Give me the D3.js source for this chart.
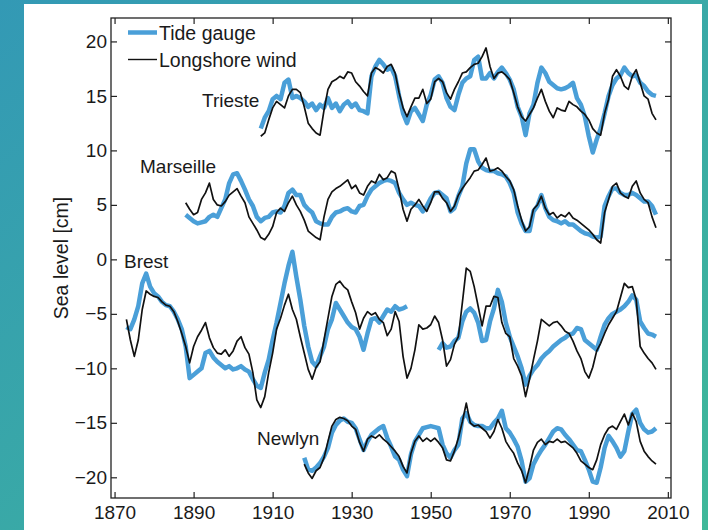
<!DOCTYPE html>
<html lang="en">
<head>
<meta charset="UTF-8">
<title>Sea level: tide gauge vs longshore wind</title>
<script src="https://d3js.org/d3.v7.min.js"></script>
<style>
  body { margin: 0; background: #3aa6ad; }
  svg { display: block; }
  text { font-family: "Liberation Sans", Arial, Helvetica, sans-serif; font-size: 19px; fill: #1a1a1a; }
  .axis path { display: none; }
  .axis line { stroke: #222; stroke-width: 1.2px; }
</style>
</head>
<body>
<svg id="chart" width="708" height="530"></svg>
<script>
// annual values, cm
const triesteStart = 1907;
const triesteGauge = [
  12.0, 13.0, 13.6, 14.7, 15.0, 14.7, 16.2, 16.5, 14.8, 15.0,
  14.8, 14.5, 14.0, 14.3, 13.7, 14.2, 13.9, 14.8, 13.9, 14.3,
  13.6, 14.2, 14.5, 14.0, 14.3, 13.7, 13.6, 13.4, 16.8, 17.7,
  18.3, 17.9, 17.4, 17.6, 16.8, 15.0, 13.4, 12.5, 13.6, 13.9,
  13.3, 12.7, 14.2, 15.1, 16.5, 16.8, 16.2, 14.8, 14.0, 13.7,
  15.1, 16.2, 16.6, 16.8, 18.3, 18.6, 16.6, 16.6, 17.1, 16.6,
  17.2, 17.6, 17.1, 16.5, 15.6, 14.0, 13.1, 11.4, 13.4, 14.2,
  16.2, 17.6, 17.1, 16.3, 16.0, 15.7, 15.6, 15.7, 15.9, 16.2,
  14.8, 14.2, 13.1, 11.3, 9.8, 11.0, 12.0, 13.4, 15.0, 16.0,
  16.6, 16.9, 17.6, 17.1, 16.8, 16.9, 16.2, 15.9, 15.4, 15.1,
  15.0
];
const triesteWind = [
  11.3, 11.6, 12.8, 13.9, 14.5, 14.2, 13.9, 15.0, 15.6, 15.6,
  15.3, 14.0, 12.5, 12.0, 11.6, 11.4, 13.7, 15.6, 16.3, 16.5,
  16.8, 16.6, 17.2, 17.1, 16.3, 15.9, 15.4, 15.0, 17.1, 17.6,
  17.4, 17.1, 17.7, 17.9, 17.1, 15.3, 13.9, 13.1, 14.0, 14.8,
  14.8, 15.6, 14.3, 14.7, 16.3, 16.6, 16.3, 15.3, 14.7, 15.6,
  16.3, 17.1, 17.2, 17.6, 17.9, 18.0, 18.6, 19.4, 17.7, 16.6,
  17.1, 17.2, 16.9, 16.5, 15.3, 14.0, 13.1, 12.7, 13.3, 13.9,
  14.8, 15.6, 14.5, 13.6, 13.0, 13.9, 13.7, 13.6, 14.5, 14.2,
  14.0, 13.6, 13.3, 12.8, 12.0, 11.6, 11.4, 13.4, 14.7, 16.8,
  17.4, 16.8, 15.9, 15.6, 16.8, 17.4, 16.2, 15.0, 14.7, 13.4,
  12.8
];

const marseilleStart = 1888;
const marseilleGauge = [
  4.1, 3.8, 3.5, 3.3, 3.4, 3.5, 3.9, 4.1, 3.9, 4.7,
  5.5, 7.0, 7.8, 7.9, 7.2, 6.4, 5.5, 4.9, 3.9, 3.5,
  3.8, 3.9, 4.3, 4.4, 4.3, 4.9, 6.1, 6.4, 5.9, 5.9,
  5.0, 4.6, 4.3, 3.5, 3.3, 3.2, 3.2, 3.9, 4.3, 4.4,
  4.6, 4.7, 4.4, 4.3, 4.9, 5.0, 5.8, 6.4, 6.7, 7.0,
  7.2, 7.3, 7.2, 7.0, 6.1, 5.5, 5.0, 5.2, 5.0, 4.9,
  4.4, 4.9, 5.6, 6.1, 6.2, 5.9, 5.6, 4.4, 4.7, 5.8,
  6.7, 8.8, 10.1, 10.1, 9.0, 8.4, 8.2, 8.1, 8.1, 7.9,
  7.8, 7.6, 7.0, 6.1, 4.3, 3.3, 2.6, 2.6, 4.4, 4.9,
  5.9, 4.7, 3.9, 3.6, 3.5, 3.3, 3.5, 3.2, 3.2, 2.9,
  2.6, 2.4, 2.3, 2.1, 2.0, 2.1, 4.9, 5.8, 6.5, 6.5,
  6.1, 5.9, 5.9, 6.1, 5.9, 5.6, 5.3, 5.3, 4.9, 4.1
];
const marseilleWind = [
  5.2, 4.6, 4.1, 4.3, 5.5, 6.1, 7.0, 5.5, 5.0, 4.9,
  5.3, 5.9, 6.2, 6.5, 5.8, 5.2, 3.9, 3.3, 2.7, 2.0,
  1.8, 2.3, 3.0, 4.3, 4.7, 4.4, 5.2, 5.8, 5.0, 4.4,
  3.6, 2.6, 2.3, 2.0, 1.8, 3.9, 5.5, 6.2, 6.5, 6.7,
  7.0, 7.3, 6.5, 6.8, 6.1, 5.9, 6.7, 7.2, 7.0, 7.8,
  7.3, 7.5, 8.1, 7.9, 6.4, 4.6, 3.5, 4.6, 5.0, 5.5,
  4.9, 4.4, 5.2, 6.2, 6.2, 5.6, 5.2, 4.4, 4.9, 5.9,
  6.5, 7.0, 7.5, 8.1, 8.2, 8.7, 9.3, 8.1, 8.2, 8.4,
  8.1, 7.6, 7.2, 6.4, 4.9, 3.6, 2.6, 3.0, 4.6, 5.0,
  5.8, 4.7, 4.1, 4.3, 3.8, 4.1, 3.9, 4.3, 3.8, 3.6,
  3.3, 3.0, 2.7, 2.3, 1.8, 1.5, 4.3, 5.5, 6.7, 7.0,
  6.1, 5.8, 5.6, 6.7, 7.2, 6.1, 5.5, 5.2, 3.9, 2.9
];

const brestStart = 1873;
const brestGauge = [
  -6.2, -6.4, -5.5, -4.3, -2.2, -1.3, -2.5, -3.1, -3.4, -3.9,
  -4.2, -4.3, -4.8, -5.5, -6.4, -8.0, -10.9, -10.6, -10.3, -10.0,
  -8.6, -8.4, -9.0, -9.4, -9.7, -10.0, -9.8, -10.1, -10.0, -9.8,
  -10.1, -10.3, -11.0, -11.6, -11.8, -10.4, -9.2, -7.4, -5.8, -4.0,
  -2.2, -0.6, 0.7, -1.6, -3.7, -6.1, -8.0, -9.4, -9.8, -8.9,
  -8.0, -6.4, -5.5, -4.0, -4.6, -5.2, -5.8, -6.2, -6.4, -7.1,
  -8.3, -6.8, -5.5, -5.4, -5.8, -5.2, -4.6, -4.8, -4.3, -4.6,
  -4.5, -4.3, null, null, null, null, null, null, null, -8.3,
  -7.7, -8.1, -8.0, -7.5, -7.2, -5.7, -4.8, -4.5, -4.9, -5.8,
  -7.5, -7.4, -5.7, -4.5, -2.8, -3.9, -5.8, -7.1, -8.0, -8.9,
  -10.0, -11.5, -10.7, -10.1, -9.7, -9.1, -8.7, -8.4, -8.0, -7.7,
  -7.4, -7.2, -6.9, -6.8, -6.3, -6.4, -7.4, -7.7, -8.0, -8.3,
  -7.1, -6.0, -5.4, -5.0, -4.8, -4.6, -4.3, -3.9, -3.3, -3.7,
  -5.7, -6.3, -6.8, -6.9, -7.1
];
const brestWind = [
  -5.5, -7.4, -8.9, -7.4, -4.6, -2.9, -3.2, -3.4, -3.5, -3.9,
  -4.2, -4.3, -4.8, -5.7, -6.8, -8.0, -9.5, -8.0, -7.1, -6.5,
  -5.8, -7.2, -8.1, -8.6, -8.7, -8.3, -8.9, -8.4, -7.5, -7.1,
  -8.1, -8.7, -10.4, -12.9, -13.6, -12.6, -10.4, -8.6, -6.4, -5.4,
  -4.2, -3.2, -4.6, -5.5, -7.1, -8.6, -10.1, -11.0, -9.9, -9.4,
  -7.4, -5.4, -3.4, -2.3, -2.0, -2.5, -2.8, -3.9, -4.9, -6.4,
  -5.4, -4.8, -5.1, -4.9, -5.5, -5.8, -7.0, -6.4, -4.8, -5.7,
  -8.9, -10.9, -10.0, -8.3, -6.0, -6.4, -6.3, -6.0, -5.2, -5.8,
  -7.4, -9.8, -9.2, -7.8, -7.1, -4.0, -0.8, -1.1, -2.5, -4.3,
  -6.1, -4.3, -4.3, -3.4, -3.5, -5.8, -6.8, -7.1, -9.1, -9.8,
  -10.7, -12.6, -11.0, -9.2, -7.5, -5.5, -5.8, -6.1, -5.8, -5.7,
  -6.1, -6.6, -6.8, -7.5, -8.4, -9.1, -10.3, -10.9, -9.9, -8.4,
  -7.7, -6.8, -6.0, -5.4, -4.8, -3.5, -2.2, -2.6, -2.5, -3.7,
  -8.0, -8.6, -9.1, -9.5, -10.1
];

const newlynStart = 1918;
const newlynGauge = [
  -18.2, -19.3, -19.4, -19.1, -18.7, -18.1, -17.3, -15.9, -15.2, -14.8,
  -14.6, -14.9, -15.0, -15.5, -16.5, -17.5, -16.7, -16.1, -15.8, -15.5,
  -15.3, -16.4, -17.2, -18.1, -18.4, -19.3, -19.9, -17.9, -16.7, -16.1,
  -15.5, -15.4, -15.3, -15.4, -15.5, -17.0, -17.8, -18.2, -17.5, -17.0,
  -14.6, -14.1, -14.9, -15.2, -15.3, -15.3, -15.5, -15.5, -15.0, -14.6,
  -13.9, -15.5, -15.9, -16.5, -17.2, -18.5, -20.4, -20.1, -18.8, -18.1,
  -17.5, -17.0, -16.4, -15.8, -15.5, -15.6, -16.1, -16.5, -17.0, -17.5,
  -17.6, -18.4, -19.3, -20.4, -20.5, -19.1, -17.3, -16.2, -16.7, -17.3,
  -18.1, -17.6, -15.8, -14.2, -13.8, -15.0, -15.6, -15.9, -15.8, -15.5
];
const newlynWind = [
  -18.8, -19.6, -20.1, -19.4, -19.1, -18.2, -16.7, -15.3, -14.7, -14.5,
  -14.6, -14.8, -15.3, -15.6, -16.8, -17.6, -16.5, -16.2, -16.4, -16.1,
  -16.5, -16.8, -17.2, -17.6, -18.1, -19.0, -19.6, -17.8, -16.7, -16.2,
  -16.7, -16.4, -16.7, -16.4, -16.8, -17.3, -18.4, -18.5, -17.6, -16.4,
  -14.9, -13.2, -15.0, -15.3, -15.2, -15.5, -15.8, -16.4, -15.8, -14.7,
  -15.5, -16.7, -17.3, -17.8, -18.7, -19.4, -20.5, -19.1, -17.5, -16.8,
  -16.5, -17.0, -16.7, -16.8, -16.5, -16.8, -16.7, -17.0, -17.3, -17.8,
  -18.5, -18.8, -19.1, -19.3, -18.4, -17.0, -16.1, -15.5, -15.3, -15.6,
  -14.9, -14.2, -15.2, -14.1, -14.9, -16.7, -17.6, -18.1, -18.5, -18.8
];

const xTicks = [1870, 1890, 1910, 1930, 1950, 1970, 1990, 2010];
const yTicks = [-20, -15, -10, -5, 0, 5, 10, 15, 20];
const seriesNames = ["Tide gauge", "Longshore wind"];

const stations = [
  { name: "Trieste", start: triesteStart, gauge: triesteGauge, wind: triesteWind },
  { name: "Marseille", start: marseilleStart, gauge: marseilleGauge, wind: marseilleWind },
  { name: "Brest", start: brestStart, gauge: brestGauge, wind: brestWind },
  { name: "Newlyn", start: newlynStart, gauge: newlynGauge, wind: newlynWind }
];

const toPoints = (start, vals) => vals.map((v, i) => ({ year: start + i, value: v }));

// layout
const W = 708, H = 530;
const plot = { left: 111, top: 18, right: 671, bottom: 498 };
const blue = "#4a9fd8";

const svg = d3.select("#chart");

// teal backdrop + white card
const defs = svg.append("defs");
const grad = defs.append("linearGradient").attr("id", "bg")
  .attr("x1", "0").attr("y1", "0").attr("x2", "1").attr("y2", "1");
grad.append("stop").attr("offset", "0%").attr("stop-color", "#3399b5");
grad.append("stop").attr("offset", "100%").attr("stop-color", "#3fb899");
svg.append("rect").attr("width", W).attr("height", H).attr("fill", "url(#bg)");
svg.append("rect").attr("x", 24).attr("y", 4).attr("width", 678).attr("height", 526).attr("fill", "#fff");

const x = d3.scaleLinear().domain([1869.1, 2010.8]).range([plot.left, plot.right]);
const y = d3.scaleLinear().domain([-21.9, 22.15]).range([plot.bottom, plot.top]);

const line = d3.line()
  .defined(d => d.value !== null)
  .x(d => x(d.year))
  .y(d => y(d.value));

// tide gauge (thick blue) under wind (thin black)
const g = svg.append("g");
stations.forEach(s => {
  g.append("path")
    .datum(toPoints(s.start, s.gauge))
    .attr("fill", "none")
    .attr("stroke", blue)
    .attr("stroke-width", 4.5)
    .attr("stroke-linejoin", "round")
    .attr("d", line);
});
stations.forEach(s => {
  g.append("path")
    .datum(toPoints(s.start, s.wind))
    .attr("fill", "none")
    .attr("stroke", "#111")
    .attr("stroke-width", 1.7)
    .attr("stroke-linejoin", "round")
    .attr("d", line);
});

// axes, ticks pointing inwards
const tk = 6;
svg.append("g").attr("class", "axis")
  .attr("transform", `translate(0,${plot.bottom})`)
  .call(d3.axisBottom(x).tickValues(xTicks).tickFormat(d3.format("d")).tickSize(-tk).tickPadding(8));
svg.append("g").attr("class", "axis")
  .attr("transform", `translate(0,${plot.top})`)
  .call(d3.axisTop(x).tickValues(xTicks).tickFormat("").tickSize(-tk));
svg.append("g").attr("class", "axis")
  .attr("transform", `translate(${plot.left},0)`)
  .call(d3.axisLeft(y).tickValues(yTicks).tickSize(-tk).tickPadding(4));
svg.append("g").attr("class", "axis")
  .attr("transform", `translate(${plot.right},0)`)
  .call(d3.axisRight(y).tickValues(yTicks).tickFormat("").tickSize(-tk));

svg.selectAll(".axis text").attr("fill", "#1a1a1a").style("font-size", "19px")
  .style("font-family", '"Liberation Sans", Arial, Helvetica, sans-serif');

svg.append("rect")
  .attr("x", plot.left).attr("y", plot.top)
  .attr("width", plot.right - plot.left).attr("height", plot.bottom - plot.top)
  .attr("fill", "none").attr("stroke", "#222").attr("stroke-width", 1.3);

// y label
svg.append("text")
  .attr("transform", "translate(68,258) rotate(-90)")
  .attr("text-anchor", "middle")
  .style("font-size", "19.5px")
  .text("Sea level [cm]");

// station labels
const labelAt = [
  { name: "Trieste", x: 202, y: 107 },
  { name: "Marseille", x: 140, y: 173 },
  { name: "Brest", x: 124, y: 268 },
  { name: "Newlyn", x: 257, y: 445 }
];
svg.selectAll(".station").data(labelAt).join("text")
  .attr("class", "station")
  .attr("x", d => d.x).attr("y", d => d.y)
  .text(d => d.name);

// legend
const leg = svg.append("g").style("font-size", "19.5px");
leg.append("line").attr("x1", 128).attr("x2", 157).attr("y1", 32.5).attr("y2", 32.5)
  .attr("stroke", blue).attr("stroke-width", 4.5);
leg.append("text").attr("x", 159).attr("y", 40).style("font-size", "19.5px").text(seriesNames[0]);
leg.append("line").attr("x1", 128).attr("x2", 157).attr("y1", 59.5).attr("y2", 59.5)
  .attr("stroke", "#111").attr("stroke-width", 1.4);
leg.append("text").attr("x", 159).attr("y", 66.5).style("font-size", "19.5px").text(seriesNames[1]);
</script>
</body>
</html>
